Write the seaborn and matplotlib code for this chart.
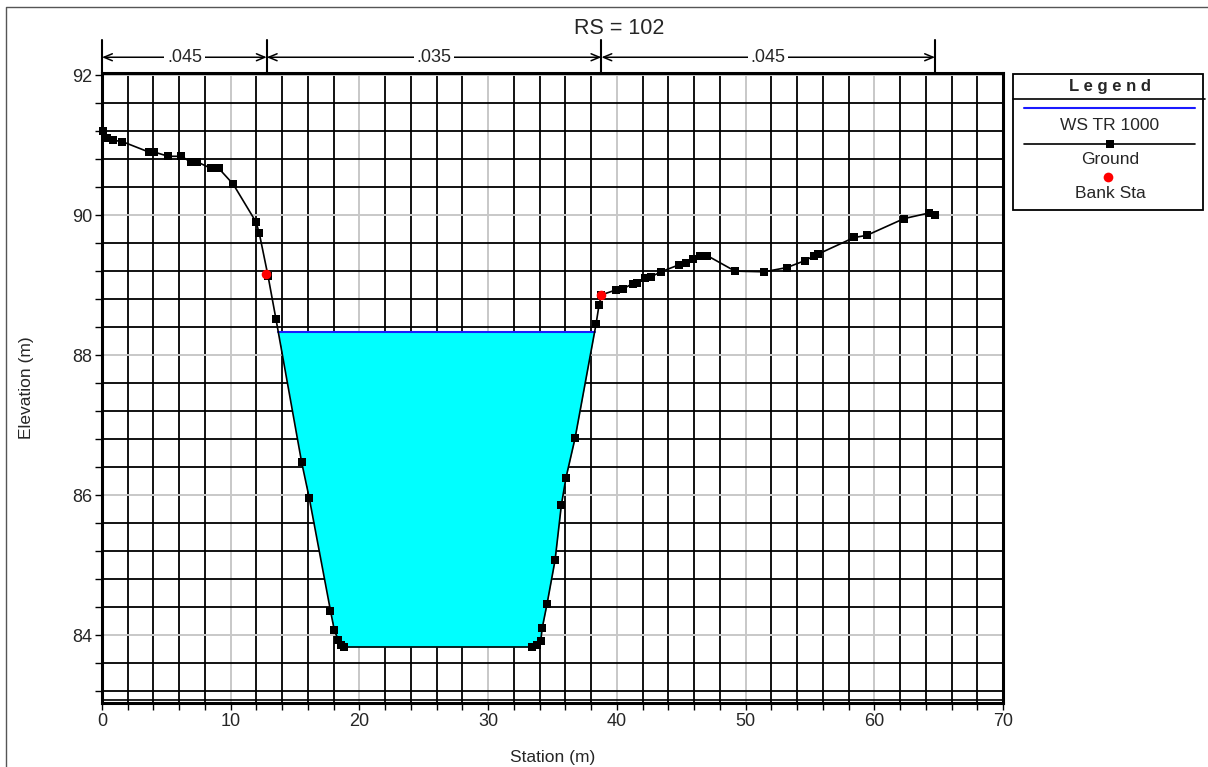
import numpy as np
import seaborn as sns
import matplotlib.pyplot as plt
from matplotlib.ticker import MultipleLocator
from matplotlib.lines import Line2D
from matplotlib.patches import Rectangle

# cross-section data (RS = 102)
station = [0.05, 0.4, 0.83, 1.58, 3.65, 4.07, 5.15, 6.16, 6.88, 7.4, 8.44, 9.06,
           10.2, 11.97, 12.22, 12.9, 13.52, 15.51, 16.1, 17.75, 18.05, 18.36,
           18.57, 18.83, 33.43, 33.77, 34.08, 34.2, 34.57, 35.2, 35.69, 36.05,
           36.75, 38.38, 38.62, 38.8, 39.91, 40.5, 41.23, 41.54, 42.21, 42.66,
           43.43, 44.83, 45.35, 45.94, 46.46, 47.03, 49.18, 51.44, 53.2, 54.62,
           55.34, 55.6, 58.43, 59.41, 62.31, 64.25, 64.72]
elevation = [91.20, 91.10, 91.07, 91.05, 90.90, 90.90, 90.84, 90.84, 90.76, 90.76,
             90.67, 90.67, 90.44, 89.90, 89.74, 89.13, 88.51, 86.47, 85.96, 84.35,
             84.07, 83.93, 83.86, 83.83, 83.83, 83.86, 83.91, 84.10, 84.44, 85.07,
             85.86, 86.25, 86.81, 88.44, 88.72, 88.86, 88.93, 88.95, 89.02, 89.03,
             89.10, 89.12, 89.19, 89.29, 89.32, 89.37, 89.42, 89.42, 89.20, 89.19,
             89.25, 89.35, 89.42, 89.44, 89.68, 89.71, 89.95, 90.03, 90.00]
bank_station = [12.78, 38.75]
bank_elev = [89.16, 88.86]
ws_elev = 88.33
n_bounds = [0.0, 12.8, 38.8, 64.72]
n_values = ['.045', '.035', '.045']

sns.set_style('white')
plt.rcParams['font.family'] = ['Liberation Sans', 'DejaVu Sans']

W, H = 1208, 767
fig = plt.figure(figsize=(W / 100, H / 100), dpi=100)
fx = lambda p: p / W
fy = lambda p: 1 - p / H

ax = fig.add_axes([fx(102), fy(703), fx(901), 630 / H])

x = np.array(station)
z = np.array(elevation)

# water fill
ax.fill_between(x, z, ws_elev, where=z <= ws_elev, interpolate=True,
                color='#00ffff', linewidth=0, zorder=2)
# water surface extent from crossing points
d = z - ws_elev
idx = np.where(np.sign(d[:-1]) != np.sign(d[1:]))[0]
xc = [x[i] + (ws_elev - z[i]) / (z[i + 1] - z[i]) * (x[i + 1] - x[i]) for i in idx]
ax.plot([min(xc), max(xc)], [ws_elev, ws_elev], color='#1a1aff', lw=1.5, zorder=3)

sns.lineplot(x=station, y=elevation, sort=False, color='black', lw=1.2,
             marker='s', markersize=6, markeredgewidth=0, ax=ax, zorder=4,
             clip_on=False)
sns.scatterplot(x=bank_station, y=bank_elev, color='red', s=48, linewidth=0,
                ax=ax, zorder=5)

ax.set_xlim(0, 70)
ax.set_ylim(83.03, 92.03)
ax.xaxis.set_major_locator(MultipleLocator(10))
ax.xaxis.set_minor_locator(MultipleLocator(2))
ax.yaxis.set_major_locator(MultipleLocator(2))
ax.yaxis.set_minor_locator(MultipleLocator(0.4))
ax.grid(which='major', color='#c8c8c8', lw=1.4)
ax.grid(which='minor', color='black', lw=1.3)
ax.set_axisbelow(True)
ax.axhline(83.075, color='black', lw=1.2, zorder=1)
for s in ax.spines.values():
    s.set_linewidth(2.2)
    s.set_color('black')
ax.tick_params(which='both', direction='out', length=5, width=1, color='black',
               left=True, bottom=True, labelsize=13, pad=2)

ax.set_xlabel('Station (m)', fontsize=12.5)
ax.set_ylabel('Elevation (m)', fontsize=12.5)
ax.xaxis.set_label_coords(0.5, -0.074)
ax.yaxis.set_label_coords(-0.076, 0.5)

# Manning's n annotation above the plot
trans = ax.get_xaxis_transform()
for b in n_bounds:
    ax.plot([b, b], [1, 1.052], color='black', lw=1.5, transform=trans, clip_on=False)
for i, n in enumerate(n_values):
    ax.annotate('', xy=(n_bounds[i + 1], 1.025), xytext=(n_bounds[i], 1.025),
                xycoords=trans, textcoords=trans,
                arrowprops=dict(arrowstyle='<->,head_length=0.6,head_width=0.25',
                                color='black', lw=1.1, shrinkA=0, shrinkB=0))
    ax.text((n_bounds[i] + n_bounds[i + 1]) / 2, 1.025, n, transform=trans,
            ha='center', va='center', fontsize=13,
            bbox=dict(facecolor='white', edgecolor='none', pad=2))

fig.text(fx(619), fy(28), 'RS = 102', ha='center', va='center', fontsize=15.5)

# legend box
fig.patches.append(Rectangle((fx(1013), fy(210)), fx(190), 136 / H, fill=False,
                             edgecolor='black', lw=1.3, transform=fig.transFigure))
fig.lines.append(Line2D([fx(1013), fx(1205)], [fy(99), fy(99)], color='black',
                        lw=1.2, transform=fig.transFigure))
fig.text(fx(1110), fy(86), 'L e g e n d', ha='center', va='center', fontsize=12,
         fontweight='bold')
fig.lines.append(Line2D([fx(1024), fx(1195)], [fy(108), fy(108)], color='#1a1aff',
                        lw=1.5, transform=fig.transFigure))
fig.text(fx(1110), fy(125), 'WS TR 1000', ha='center', va='center', fontsize=12.5)
fig.lines.append(Line2D([fx(1024), fx(1195)], [fy(144), fy(144)], color='black',
                        lw=1.2, transform=fig.transFigure))
fig.lines.append(Line2D([fx(1110)], [fy(144)], color='black', marker='s',
                        markersize=6, markeredgewidth=0, transform=fig.transFigure))
fig.text(fx(1110), fy(160), 'Ground', ha='center', va='center', fontsize=12.5)
fig.lines.append(Line2D([fx(1108)], [fy(177)], color='red', marker='o',
                        markersize=7, markeredgewidth=0, transform=fig.transFigure))
fig.text(fx(1110), fy(194), 'Bank Sta', ha='center', va='center', fontsize=12.5)

# outer frame (left and top)
fig.lines.append(Line2D([fx(6), fx(6), 1], [0, fy(7), fy(7)], color='#555555',
                        lw=1, transform=fig.transFigure))

fig.savefig('out.png', dpi=100)
